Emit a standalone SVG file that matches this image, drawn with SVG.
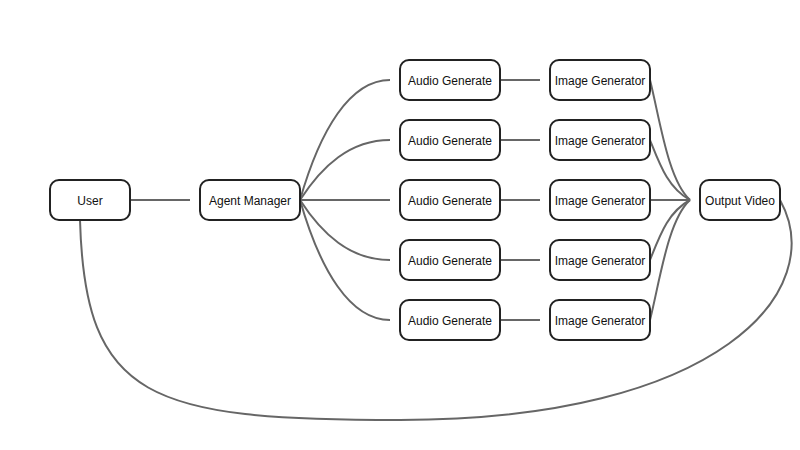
<svg xmlns="http://www.w3.org/2000/svg" width="800" height="450" viewBox="0 0 800 450">
<style>
.n rect{fill:#fff;stroke:#222;stroke-width:2}
.n text{font-family:"Liberation Sans",Arial,sans-serif;font-size:12px;fill:#111;text-anchor:middle}
.c path{fill:none;stroke:#666;stroke-width:2}
</style>
<rect width="800" height="450" fill="#fff"/>
<g class="c" id="connectors">
<path d="M130 200 H190"/>
<path d="M300 200 C320 130 350 80 390 80"/>
<path d="M300 200 C322 166 350 140 390 140"/>
<path d="M300 200 H390"/>
<path d="M300 200 C322 234 350 260 390 260"/>
<path d="M300 200 C320 270 350 320 390 320"/>
<path d="M500 80 H540"/>
<path d="M500 140 H540"/>
<path d="M500 200 H540"/>
<path d="M500 260 H540"/>
<path d="M500 320 H540"/>
<path d="M650 80 C660 120 668 180 690 200"/>
<path d="M650 140 C660 165 668 188 690 200"/>
<path d="M650 200 H690"/>
<path d="M650 260 C660 235 668 212 690 200"/>
<path d="M650 320 C660 280 668 220 690 200"/>
<path d="M780 200 C830 290 720 420 400 420 C150 420 85 400 80 220"/>
</g>
<g class="n" id="user"><rect x="50" y="180" width="80" height="40" rx="9"/><text x="90" y="205">User</text></g>
<g class="n" id="agent-manager"><rect x="200" y="180" width="100" height="40" rx="9"/><text x="250" y="205">Agent Manager</text></g>
<g class="n" id="audio1"><rect x="400" y="60" width="100" height="40" rx="9"/><text x="450" y="85">Audio Generate</text></g>
<g class="n" id="audio2"><rect x="400" y="120" width="100" height="40" rx="9"/><text x="450" y="145">Audio Generate</text></g>
<g class="n" id="audio3"><rect x="400" y="180" width="100" height="40" rx="9"/><text x="450" y="205">Audio Generate</text></g>
<g class="n" id="audio4"><rect x="400" y="240" width="100" height="40" rx="9"/><text x="450" y="265">Audio Generate</text></g>
<g class="n" id="audio5"><rect x="400" y="300" width="100" height="40" rx="9"/><text x="450" y="325">Audio Generate</text></g>
<g class="n" id="image1"><rect x="550" y="60" width="100" height="40" rx="9"/><text x="600" y="85">Image Generator</text></g>
<g class="n" id="image2"><rect x="550" y="120" width="100" height="40" rx="9"/><text x="600" y="145">Image Generator</text></g>
<g class="n" id="image3"><rect x="550" y="180" width="100" height="40" rx="9"/><text x="600" y="205">Image Generator</text></g>
<g class="n" id="image4"><rect x="550" y="240" width="100" height="40" rx="9"/><text x="600" y="265">Image Generator</text></g>
<g class="n" id="image5"><rect x="550" y="300" width="100" height="40" rx="9"/><text x="600" y="325">Image Generator</text></g>
<g class="n" id="output-video"><rect x="700" y="180" width="80" height="40" rx="9"/><text x="740" y="205">Output Video</text></g>
</svg>
